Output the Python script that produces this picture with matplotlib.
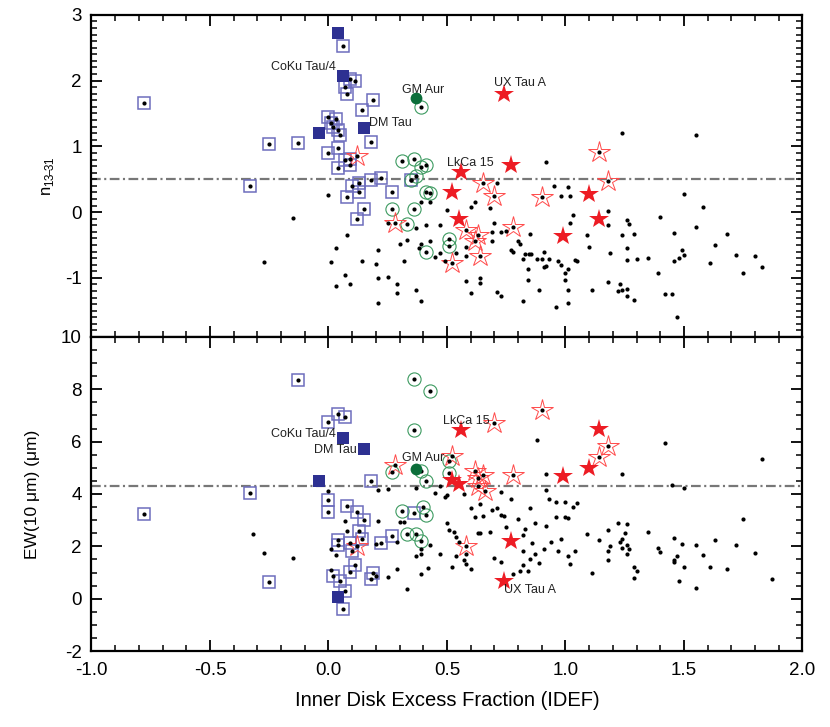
import numpy as np
import matplotlib
matplotlib.use('Agg')
import matplotlib.pyplot as plt
from matplotlib.ticker import MultipleLocator


# ---------------- upper panel: n13-31 vs IDEF ----------------
top_dots = [
    (0.00, 0.26), (-0.15, -0.09), (0.08, -0.35), (0.03, -0.55), (-0.27, -0.76), (0.01, -0.76),
    (0.07, -0.96), (0.03, -1.13), (0.09, -1.10), (0.25, -0.16), (0.37, -0.24), (0.41, -0.19),
    (0.39, 0.16), (0.21, -0.58), (0.30, -0.49), (0.33, -0.43), (0.39, -0.49), (0.38, -0.54),
    (0.14, -0.74), (0.20, -0.79), (0.32, -0.74), (0.21, -1.01), (0.25, -0.99), (0.29, -1.09),
    (0.29, -1.23), (0.37, -1.19), (0.39, -1.36), (0.21, -1.39), (0.71, 0.45), (0.95, 0.39),
    (1.01, 0.38), (0.98, 0.25), (1.02, 0.25), (0.62, 0.15), (0.60, 0.08), (0.50, 0.03),
    (0.68, 0.06), (0.43, 0.15), (1.03, -0.04), (1.02, -0.17), (1.26, -0.12), (1.27, -0.18),
    (0.70, -0.16), (0.47, -0.19), (0.69, -0.31), (0.73, -0.31), (0.75, -0.29), (0.85, -0.33),
    (1.09, -0.35), (1.24, -0.35), (0.43, -0.44), (0.69, -0.44), (0.80, -0.44), (0.81, -0.49),
    (0.58, -0.53), (0.77, -0.58), (0.78, -0.61), (0.83, -0.64), (0.845, -0.64), (0.855, -0.64),
    (0.91, -0.60), (1.10, -0.53), (1.26, -0.54), (1.19, -0.62), (0.47, -0.63), (0.54, -0.63),
    (0.58, -0.67), (0.45, -0.68), (0.49, -0.75), (0.82, -0.71), (0.88, -0.72), (0.90, -0.71),
    (0.93, -0.71), (0.97, -0.74), (1.04, -0.73), (1.05, -0.74), (1.26, -0.73), (0.84, -0.86),
    (0.91, -0.84), (0.92, -0.82), (0.98, -0.81), (1.01, -0.86), (1.00, -0.92), (0.58, -1.05),
    (0.64, -1.01), (0.64, -1.08), (0.84, -1.03), (1.00, -1.03), (1.18, -1.06), (1.23, -1.09),
    (0.89, -1.18), (1.01, -1.18), (1.11, -1.18), (1.22, -1.20), (1.24, -1.18), (1.26, -1.17),
    (0.60, -1.23), (0.71, -1.21), (0.73, -1.28), (1.26, -1.27), (0.82, -1.36), (1.01, -1.38),
    (0.96, -1.44), (0.92, 0.76), (1.24, 1.21), (1.55, 1.18), (1.50, 0.27), (1.58, 0.08),
    (1.18, 0.02), (1.40, -0.08), (1.18, -0.20), (1.29, -0.34), (1.46, -0.32), (1.55, -0.23),
    (1.68, -0.33), (1.63, -0.50), (1.49, -0.58), (1.48, -0.70), (1.50, -0.65), (1.46, -0.75),
    (1.72, -0.66), (1.80, -0.67), (1.30, -0.72), (1.35, -0.70), (1.61, -0.78), (1.75, -0.93),
    (1.83, -0.83), (1.39, -0.93), (1.29, -1.33), (1.42, -1.24), (1.45, -1.24), (1.47, -1.59),
]
top_open_sq = [
    (0.06, 2.52), (0.09, 2.02), (0.11, 1.99), (0.07, 1.90), (0.08, 1.80), (0.19, 1.70),
    (0.14, 1.56), (0.00, 1.44), (0.03, 1.41), (0.01, 1.35), (0.02, 1.29), (0.04, 1.25),
    (0.05, 1.17), (-0.13, 1.05), (-0.25, 1.04), (-0.78, 1.66), (0.18, 1.06), (0.04, 0.98),
    (0.00, 0.90), (0.07, 0.79), (0.09, 0.81), (0.04, 0.67), (0.09, 0.71), (0.13, 0.44),
    (0.10, 0.40), (0.18, 0.49), (0.22, 0.52), (0.13, 0.30), (0.08, 0.23), (0.27, 0.30),
    (0.15, 0.04), (0.12, -0.10), (-0.33, 0.40), (0.35, 0.49),
]
top_fill_sq = [(0.04, 2.72), (0.06, 2.07), (0.15, 1.28), (-0.04, 1.20)]
top_open_circ = [
    (0.39, 1.60), (0.31, 0.78), (0.36, 0.81), (0.39, 0.68), (0.41, 0.71), (0.37, 0.55),
    (0.35, 0.49), (0.41, 0.31), (0.43, 0.29), (0.27, 0.05), (0.36, 0.05), (0.33, -0.18),
    (0.51, -0.41), (0.51, -0.51), (0.41, -0.61),
]
top_fill_circ = [(0.37, 1.73)]
top_open_star = [
    (1.14, 0.91), (0.12, 0.86), (0.65, 0.44), (1.18, 0.48), (0.70, 0.25), (0.90, 0.23),
    (0.78, -0.23), (0.28, -0.16), (0.58, -0.27), (0.63, -0.35), (0.62, -0.44), (0.64, -0.67),
    (0.52, -0.77),
]
top_fill_star = [
    (0.74, 1.80), (0.77, 0.71), (0.56, 0.61), (0.52, 0.30), (1.10, 0.27), (1.14, -0.10),
    (0.55, -0.10), (0.99, -0.36),
]
top_names = [('CoKu Tau/4', 0.03, 2.21, 'right'), ('GM Aur', 0.40, 1.86, 'center'),
             ('DM Tau', 0.17, 1.36, 'left'), ('UX Tau A', 0.81, 1.97, 'center'),
             ('LkCa 15', 0.60, 0.74, 'center')]
top_cut = 0.5

# ---------------- lower panel: EW(10um) vs IDEF ----------------
bot_dots = [
    (0.00, 4.10), (-0.32, 2.46), (-0.27, 1.75), (-0.15, 1.56), (0.07, 2.95), (0.08, 2.59),
    (0.01, 1.88), (0.03, 1.66), (0.01, 1.11), (0.21, 4.17), (0.25, 4.20), (0.37, 4.24),
    (0.21, 2.97), (0.30, 2.93), (0.32, 2.93), (0.20, 2.10), (0.29, 2.16), (0.39, 1.88),
    (0.39, 1.71), (0.37, 1.62), (0.42, 1.17), (0.29, 1.15), (0.25, 0.82), (0.33, 0.37),
    (0.20, 0.88), (0.39, 0.95), (0.47, 4.32), (0.49, 3.90), (0.50, 3.95), (0.45, 4.03),
    (0.57, 4.00), (0.73, 4.09), (0.92, 4.78), (0.92, 4.16), (1.24, 4.78), (0.60, 3.45),
    (0.64, 3.62), (0.69, 3.40), (0.71, 3.45), (0.77, 3.81), (0.85, 3.45), (0.93, 3.81),
    (0.96, 3.71), (1.00, 3.71), (1.03, 3.51), (1.05, 3.66), (1.00, 3.14), (1.01, 3.08),
    (0.96, 3.14), (0.73, 3.19), (0.74, 3.17), (0.62, 3.13), (0.65, 3.17), (0.80, 3.04),
    (0.87, 2.88), (0.92, 2.78), (1.22, 2.88), (1.26, 2.85), (0.50, 2.91), (0.51, 2.61),
    (0.53, 2.56), (0.63, 2.50), (0.64, 2.52), (0.68, 2.56), (0.75, 2.75), (0.83, 2.65),
    (0.82, 2.43), (0.98, 2.29), (1.09, 2.46), (1.18, 2.61), (1.25, 2.50), (1.19, 2.03),
    (1.14, 2.23), (0.94, 2.17), (0.54, 2.37), (0.55, 2.16), (0.43, 2.07), (0.47, 1.71),
    (0.54, 1.65), (0.58, 1.69), (0.70, 1.56), (0.73, 1.40), (0.86, 2.14), (0.82, 1.81),
    (0.87, 1.71), (0.91, 1.90), (0.97, 1.84), (1.04, 1.84), (1.01, 1.65), (0.89, 1.36),
    (0.85, 1.53), (0.82, 1.27), (0.81, 1.04), (0.84, 1.04), (0.78, 0.95), (1.02, 1.34),
    (1.18, 1.81), (1.18, 1.46), (1.11, 1.00), (0.52, 1.21), (0.57, 1.47), (0.58, 1.32),
    (0.60, 1.15), (0.88, 6.06), (1.42, 5.96), (1.83, 5.34), (1.45, 4.36), (1.50, 4.22),
    (1.75, 3.06), (1.35, 2.56), (1.23, 2.17), (1.24, 2.27), (1.26, 2.05), (1.24, 1.94),
    (1.27, 1.88), (1.26, 1.71), (1.39, 1.94), (1.40, 1.79), (1.46, 2.31), (1.49, 2.10),
    (1.47, 1.62), (1.46, 1.46), (1.46, 1.39), (1.50, 1.21), (1.55, 2.07), (1.63, 2.25),
    (1.58, 1.67), (1.72, 2.06), (1.80, 1.73), (1.61, 1.20), (1.68, 1.15), (1.29, 1.20),
    (1.30, 1.05), (1.29, 0.78), (1.48, 0.66), (1.55, 0.39), (1.87, 0.75),
]
bot_open_sq = [
    (-0.13, 8.34), (0.00, 6.77), (0.04, 7.07), (0.07, 6.94), (-0.33, 4.03), (-0.78, 3.23),
    (0.18, 4.48), (0.00, 3.77), (0.00, 3.33), (0.08, 3.55), (0.12, 3.32), (0.15, 3.00),
    (0.13, 2.59), (0.14, 2.27), (0.04, 2.24), (0.04, 2.05), (0.09, 2.14), (0.10, 1.81),
    (0.22, 2.14), (0.27, 2.39), (0.36, 3.27), (-0.25, 0.62), (0.02, 0.85), (0.05, 0.68),
    (0.09, 1.02), (0.11, 1.27), (0.19, 0.98), (0.18, 0.75), (0.07, 0.30), (0.06, -0.41),
]
bot_fill_sq = [(0.06, 6.13), (0.15, 5.71), (-0.04, 4.48), (0.04, 0.05)]
bot_open_circ = [
    (0.36, 8.38), (0.43, 7.93), (0.36, 6.45), (0.27, 4.84), (0.39, 4.86), (0.41, 4.48),
    (0.51, 5.26), (0.51, 4.81), (0.31, 3.36), (0.40, 3.49), (0.41, 3.20), (0.33, 2.46),
    (0.37, 2.48), (0.39, 2.20),
]
bot_fill_circ = [(0.37, 4.97)]
bot_open_star = [
    (0.90, 7.22), (0.70, 6.73), (1.18, 5.83), (1.14, 5.42), (0.78, 4.74), (0.52, 5.46),
    (0.28, 5.12), (0.62, 4.86), (0.63, 4.61), (0.65, 4.71), (0.63, 4.32), (0.66, 4.13),
    (0.58, 2.01), (0.12, 2.01),
]
bot_fill_star = [
    (0.56, 6.45), (1.14, 6.47), (1.10, 5.01), (0.99, 4.68), (0.52, 4.54), (0.55, 4.39),
    (0.77, 2.20), (0.74, 0.68),
]
bot_names = [('CoKu Tau/4', 0.03, 6.29, 'right'), ('DM Tau', 0.12, 5.68, 'right'),
             ('GM Aur', 0.40, 5.36, 'center'), ('UX Tau A', 0.85, 0.34, 'center'),
             ('LkCa 15', 0.58, 6.80, 'center')]
bot_cut = 4.3


plt.rcParams.update({
    'font.family': ['Liberation Sans', 'DejaVu Sans'],
    'font.size': 13.5,
    'axes.unicode_minus': False,
    'axes.linewidth': 1.6,
    'lines.scale_dashes': False,
})


def xy(pts):
    a = np.array(pts, dtype=float)
    return a[:, 0], a[:, 1]


def panel(ax, dots, osq, fsq, ocirc, fcirc, ostar, fstar, names, cut):
    ax.axhline(cut, color='#777777', lw=1.6, dashes=(7, 2.5, 1.5, 2.5), zorder=1)
    x, y = xy(osq)
    ax.plot(x, y, 's', ms=8.5, mfc='none', mec='#6d6dbd', mew=1.1, zorder=2)
    x, y = xy(ocirc)
    ax.plot(x, y, 'o', ms=9.5, mfc='none', mec='#3c9a60', mew=0.8, zorder=2)
    x, y = xy(ostar)
    ax.plot(x, y, '*', ms=16, mfc='none', mec='#ff4a4a', mew=0.7, zorder=2)
    # every object shows as a black dot
    for grp in (dots, osq, ocirc, ostar):
        x, y = xy(grp)
        ax.plot(x, y, 'o', ms=3, color='black', mew=0, zorder=3)
    x, y = xy(fsq)
    ax.plot(x, y, 's', ms=9, color='#2d3091', mew=0, zorder=4)
    x, y = xy(fcirc)
    ax.plot(x, y, 'o', ms=8.5, color='#0b6e3a', mew=0, zorder=4)
    x, y = xy(fstar)
    ax.plot(x, y, '*', ms=15, color='#ed1c24', mew=0, zorder=4)
    for name, tx, ty, ha in names:
        ax.text(tx, ty, name, fontsize=9, ha=ha, va='center', color='#222222', zorder=5)
    ax.set_xlim(-1.0, 2.0)
    ax.xaxis.set_major_locator(MultipleLocator(0.5))
    ax.xaxis.set_minor_locator(MultipleLocator(0.1))
    ax.tick_params(which='both', direction='in', top=True, right=True)
    ax.tick_params(which='major', length=8, width=1.3)
    ax.tick_params(which='minor', length=4.5, width=1.1)
    ax.tick_params(axis='x', which='major', pad=8)
    ax.tick_params(axis='y', which='major', pad=7)


fig = plt.figure(figsize=(8.3, 7.27), dpi=100)
ax1 = fig.add_axes([0.1102, 0.5365, 0.8566, 0.4430])
ax2 = fig.add_axes([0.1102, 0.1045, 0.8566, 0.4320])

panel(ax1, top_dots, top_open_sq, top_fill_sq, top_open_circ, top_fill_circ,
      top_open_star, top_fill_star, top_names, top_cut)
panel(ax2, bot_dots, bot_open_sq, bot_fill_sq, bot_open_circ, bot_fill_circ,
      bot_open_star, bot_fill_star, bot_names, bot_cut)

ax1.set_ylim(-1.9, 3.0)
ax1.yaxis.set_major_locator(MultipleLocator(1))
ax1.yaxis.set_minor_locator(MultipleLocator(0.1))
ax1.tick_params(labelbottom=False)
ax1.set_ylabel(r'n$_{\mathregular{13}\!\mathregular{-}\!\mathregular{31}}$', fontsize=12)
ax1.yaxis.set_label_coords(-0.050, 0.5)

ax2.set_ylim(-2.0, 10.0)
ax2.yaxis.set_major_locator(MultipleLocator(2))
ax2.yaxis.set_minor_locator(MultipleLocator(0.5))
ax2.set_ylabel('EW(10 \u03bcm) (\u03bcm)', fontsize=12.5)
ax2.yaxis.set_label_coords(-0.072, 0.5)
ax2.set_xlabel('Inner Disk Excess Fraction (IDEF)', fontsize=14.5)
ax2.xaxis.set_label_coords(0.5, -0.128)

fig.savefig('out.png', dpi=100)
